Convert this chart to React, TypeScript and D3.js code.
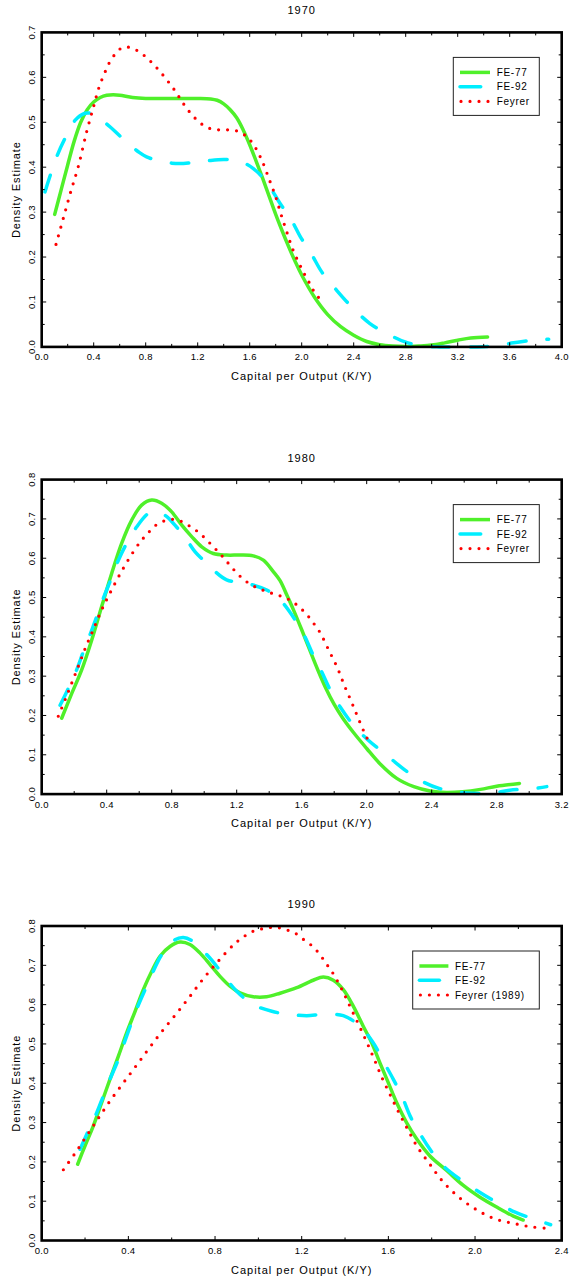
import React from "react";
import * as d3 from "d3";

const FONT = '"Liberation Sans", Arial, Helvetica, sans-serif';
const GREEN = "#4ff02a";
const CYAN = "#00eeff";
const RED = "#ff0000";

// ---------- 1970 ----------
const fe77_1970_x = [0.1, 0.15, 0.2, 0.25, 0.3, 0.35, 0.4, 0.45, 0.5, 0.55, 0.6, 0.7, 0.8, 0.9, 1.0, 1.1, 1.2, 1.3, 1.35, 1.4, 1.45, 1.5, 1.55, 1.6, 1.65, 1.7, 1.75, 1.8, 1.85, 1.9, 1.95, 2.0, 2.1, 2.2, 2.3, 2.4, 2.5, 2.6, 2.7, 2.8, 2.9, 3.0, 3.1, 3.2, 3.3, 3.43];
const fe77_1970_y = [0.295, 0.35, 0.405, 0.458, 0.5, 0.528, 0.545, 0.555, 0.56, 0.561, 0.56, 0.555, 0.553, 0.553, 0.553, 0.553, 0.553, 0.552, 0.549, 0.541, 0.528, 0.51, 0.483, 0.45, 0.413, 0.375, 0.335, 0.295, 0.258, 0.223, 0.19, 0.16, 0.11, 0.072, 0.045, 0.026, 0.012, 0.005, 0.002, 0.001, 0.002, 0.004, 0.009, 0.015, 0.02, 0.022];
const fe92_1970_x = [0.025, 0.115, 0.179, 0.256, 0.333, 0.372, 0.45, 0.525, 0.6, 0.666, 0.75, 0.807, 0.9, 1.0, 1.064, 1.15, 1.218, 1.3, 1.4, 1.474, 1.55, 1.628, 1.73, 1.83, 1.92, 1.99, 2.08, 2.154, 2.269, 2.385, 2.525, 2.654, 2.795, 2.935, 3.06, 3.2, 3.35, 3.47, 3.63, 3.78, 3.9];
const fe92_1970_y = [0.345, 0.423, 0.464, 0.504, 0.52, 0.52, 0.507, 0.49, 0.47, 0.453, 0.433, 0.423, 0.414, 0.409, 0.408, 0.41, 0.412, 0.415, 0.417, 0.416, 0.41, 0.397, 0.367, 0.321, 0.283, 0.245, 0.204, 0.167, 0.126, 0.089, 0.052, 0.03, 0.011, 0.002, 0.0, 0.0, 0.0, 0.002, 0.009, 0.015, 0.017];
const fey_1970_x = [0.11, 0.166, 0.223, 0.282, 0.346, 0.402, 0.44, 0.492, 0.525, 0.569, 0.625, 0.695, 0.764, 0.825, 0.879, 0.933, 0.985, 1.033, 1.077, 1.126, 1.18, 1.24, 1.305, 1.374, 1.44, 1.51, 1.577, 1.628, 1.667, 1.7, 1.75, 1.8, 1.84, 1.885, 1.93, 1.99, 2.025, 2.064, 2.1, 2.154];
const fey_1970_y = [0.228, 0.286, 0.345, 0.402, 0.479, 0.538, 0.577, 0.615, 0.635, 0.653, 0.667, 0.665, 0.654, 0.639, 0.623, 0.605, 0.586, 0.567, 0.547, 0.527, 0.509, 0.494, 0.485, 0.483, 0.483, 0.48, 0.468, 0.451, 0.431, 0.411, 0.373, 0.334, 0.296, 0.256, 0.218, 0.18, 0.16, 0.14, 0.121, 0.102];

// ---------- 1980 ----------
const fe77_1980_x = [0.123, 0.185, 0.246, 0.308, 0.369, 0.431, 0.492, 0.554, 0.615, 0.677, 0.738, 0.8, 0.862, 0.923, 0.985, 1.056, 1.138, 1.22, 1.302, 1.364, 1.425, 1.467, 1.51, 1.55, 1.6, 1.65, 1.7, 1.75, 1.8, 1.85, 1.92, 2.0, 2.08, 2.185, 2.29, 2.39, 2.49, 2.59, 2.7, 2.8, 2.94];
const fe77_1980_y = [0.193, 0.256, 0.316, 0.392, 0.477, 0.562, 0.638, 0.697, 0.735, 0.748, 0.74, 0.718, 0.684, 0.655, 0.629, 0.612, 0.608, 0.608, 0.606, 0.595, 0.566, 0.543, 0.505, 0.468, 0.418, 0.366, 0.315, 0.268, 0.228, 0.195, 0.156, 0.116, 0.078, 0.04, 0.019, 0.008, 0.004, 0.006, 0.012, 0.02, 0.027];
const fe92_1980_x = [0.113, 0.164, 0.215, 0.256, 0.297, 0.338, 0.379, 0.42, 0.472, 0.523, 0.585, 0.656, 0.7, 0.77, 0.82, 0.872, 0.943, 0.995, 1.046, 1.138, 1.262, 1.385, 1.467, 1.56, 1.62, 1.67, 1.723, 1.774, 1.836, 1.917, 2.01, 2.123, 2.236, 2.348, 2.45, 2.615, 2.78, 2.88, 3.03, 3.108];
const fe92_1980_y = [0.226, 0.269, 0.316, 0.362, 0.405, 0.451, 0.498, 0.54, 0.595, 0.638, 0.68, 0.714, 0.72, 0.706, 0.684, 0.659, 0.617, 0.595, 0.574, 0.545, 0.536, 0.519, 0.494, 0.443, 0.4, 0.354, 0.311, 0.266, 0.222, 0.176, 0.137, 0.099, 0.061, 0.031, 0.014, 0.003, 0.003, 0.01, 0.014, 0.019];
const fey_1980_x = [0.102, 0.147, 0.19, 0.232, 0.273, 0.318, 0.365, 0.416, 0.472, 0.533, 0.605, 0.65, 0.699, 0.754, 0.81, 0.863, 0.917, 0.968, 1.019, 1.071, 1.122, 1.167, 1.216, 1.265, 1.319, 1.374, 1.43, 1.483, 1.538, 1.59, 1.637, 1.676, 1.713, 1.768, 1.82, 1.862, 1.908, 1.953, 2.0, 2.03];
const fey_1980_y = [0.198, 0.243, 0.288, 0.332, 0.376, 0.419, 0.465, 0.508, 0.552, 0.596, 0.641, 0.662, 0.683, 0.695, 0.699, 0.693, 0.68, 0.665, 0.645, 0.623, 0.6, 0.578, 0.556, 0.539, 0.526, 0.517, 0.509, 0.502, 0.491, 0.474, 0.454, 0.433, 0.411, 0.365, 0.321, 0.277, 0.233, 0.188, 0.144, 0.123];

// ---------- 1990 ----------
const fe77_1990_x = [0.166, 0.2, 0.238, 0.277, 0.315, 0.354, 0.392, 0.431, 0.469, 0.508, 0.546, 0.592, 0.638, 0.684, 0.731, 0.777, 0.823, 0.869, 0.915, 0.977, 1.038, 1.1, 1.177, 1.253, 1.3, 1.346, 1.392, 1.438, 1.484, 1.523, 1.561, 1.6, 1.638, 1.684, 1.731, 1.792, 1.869, 1.946, 2.023, 2.1, 2.177, 2.222];
const fe77_1990_y = [0.194, 0.241, 0.291, 0.351, 0.41, 0.469, 0.528, 0.583, 0.638, 0.685, 0.723, 0.748, 0.759, 0.753, 0.731, 0.702, 0.672, 0.647, 0.63, 0.62, 0.62, 0.629, 0.643, 0.662, 0.67, 0.662, 0.638, 0.596, 0.545, 0.503, 0.452, 0.401, 0.351, 0.3, 0.258, 0.215, 0.178, 0.14, 0.11, 0.085, 0.062, 0.052];
const fe92_1990_x = [0.177, 0.215, 0.254, 0.284, 0.315, 0.354, 0.392, 0.438, 0.477, 0.515, 0.554, 0.615, 0.654, 0.692, 0.769, 0.831, 0.9, 0.977, 1.062, 1.146, 1.223, 1.3, 1.392, 1.469, 1.53, 1.577, 1.623, 1.662, 1.7, 1.738, 1.792, 1.853, 1.93, 2.023, 2.1, 2.185, 2.27, 2.349];
const fe92_1990_y = [0.232, 0.279, 0.325, 0.367, 0.41, 0.461, 0.52, 0.588, 0.638, 0.685, 0.727, 0.765, 0.771, 0.763, 0.723, 0.681, 0.634, 0.6, 0.583, 0.575, 0.572, 0.575, 0.572, 0.545, 0.503, 0.456, 0.41, 0.368, 0.317, 0.279, 0.232, 0.19, 0.156, 0.122, 0.097, 0.072, 0.055, 0.04];
const fey_1990_x = [0.1, 0.158, 0.212, 0.264, 0.318, 0.377, 0.438, 0.497, 0.558, 0.623, 0.684, 0.746, 0.814, 0.887, 0.928, 0.969, 1.01, 1.05, 1.089, 1.131, 1.169, 1.21, 1.253, 1.287, 1.315, 1.343, 1.387, 1.426, 1.464, 1.5, 1.535, 1.569, 1.607, 1.646, 1.687, 1.733, 1.789, 1.85, 1.93, 2.011, 2.092, 2.174, 2.257, 2.335];
const fey_1990_y = [0.18, 0.225, 0.27, 0.313, 0.357, 0.401, 0.446, 0.49, 0.534, 0.578, 0.621, 0.666, 0.71, 0.753, 0.771, 0.785, 0.792, 0.796, 0.796, 0.79, 0.782, 0.765, 0.747, 0.725, 0.703, 0.681, 0.637, 0.592, 0.548, 0.505, 0.461, 0.416, 0.372, 0.328, 0.285, 0.239, 0.196, 0.151, 0.108, 0.077, 0.055, 0.044, 0.035, 0.031];

const panelTitles = ["1970", "1980", "1990"];
const panelXMax = [4.0, 3.2, 2.4];
const panelYMax = [0.7, 0.8, 0.8];
const legendNames = [["FE-77", "FE-92", "Feyrer"], ["FE-77", "FE-92", "Feyrer"], ["FE-77", "FE-92", "Feyrer (1989)"]];
const xAxisTitle = "Capital per Output (K/Y)";
const yAxisTitle = "Density Estimate";

const panelSeries = [
  [[fe77_1970_x, fe77_1970_y], [fe92_1970_x, fe92_1970_y], [fey_1970_x, fey_1970_y]],
  [[fe77_1980_x, fe77_1980_y], [fe92_1980_x, fe92_1980_y], [fey_1980_x, fey_1980_y]],
  [[fe77_1990_x, fe77_1990_y], [fe92_1990_x, fe92_1990_y], [fey_1990_x, fey_1990_y]],
];

const seriesStyle = [
  { color: GREEN, dash: undefined as string | undefined, width: 3.5 },
  { color: CYAN, dash: "17.5 21", width: 3.5 },
  { color: RED, dash: "0 9", width: 3.2 },
];

const LEFT = 41.7;
const RIGHT = 561.7;
const TOPS = [32.4, 479.6, 926];
const PH = 314.5;

function Panel({ idx }: { idx: number }) {
  const top = TOPS[idx];
  const bottom = top + PH;
  const xMax = panelXMax[idx];
  const yMax = panelYMax[idx];
  const x = d3.scaleLinear().domain([0, xMax]).range([LEFT, RIGHT]);
  const y = d3.scaleLinear().domain([0, yMax]).range([bottom, top]);
  const line = d3
    .line<[number, number]>()
    .x((d) => x(d[0]))
    .y((d) => y(d[1]))
    .curve(d3.curveCatmullRom.alpha(0.5));

  const xt = d3.range(0, Math.round(xMax / 0.2) + 1).map((i) => i * 0.2);
  const yt = d3.range(0, Math.round(yMax / 0.05) + 1).map((i) => i * 0.05);
  const fmt = d3.format(".1f");

  const labels = legendNames[idx];
  const wide = labels[2].length > 8;
  const boxW = wide ? 126.6 : 86;
  const boxX = RIGHT - 22.4 - boxW;
  const boxY = top + 25;
  const entryY = [15, 29.3, 44];
  const lx0 = boxX + 6.7;
  const tx = boxX + (wide ? 42.3 : 43.4);
  const lineLens = wide ? [29, 20, 27.3] : [30, 20.7, 27.3];

  const majLen = 4.5;
  const minLen = 3;

  return (
    <g>
      <text x={(LEFT + RIGHT) / 2} y={top - 18} textAnchor="middle" fontSize={11} letterSpacing={1} fontFamily={FONT}>
        {panelTitles[idx]}
      </text>
      {panelSeries[idx].map((s, k) => {
        const pts = s[0].map((xv, i) => [xv, s[1][i]] as [number, number]);
        const st = seriesStyle[k];
        return (
          <path
            key={k}
            d={line(pts) || ""}
            fill="none"
            stroke={st.color}
            strokeWidth={st.width}
            strokeDasharray={st.dash}
            strokeLinecap="round"
            strokeLinejoin="round"
          />
        );
      })}
      {xt.map((v, i) => {
        const L = i % 2 === 0 ? majLen : minLen;
        return (
          <g key={"xt" + i}>
            <line x1={x(v)} x2={x(v)} y1={bottom} y2={bottom - L} stroke="#000" strokeWidth={1} />
            <line x1={x(v)} x2={x(v)} y1={top} y2={top + L} stroke="#000" strokeWidth={1} />
            {i % 2 === 0 && (
              <text x={x(v)} y={bottom + 13.5} textAnchor="middle" fontSize={9.5} letterSpacing={0.3} fontFamily={FONT}>
                {fmt(v)}
              </text>
            )}
          </g>
        );
      })}
      {yt.map((v, i) => {
        const L = i % 2 === 0 ? majLen : minLen;
        return (
          <g key={"yt" + i}>
            <line x1={LEFT} x2={LEFT + L} y1={y(v)} y2={y(v)} stroke="#000" strokeWidth={1} />
            <line x1={RIGHT} x2={RIGHT - L} y1={y(v)} y2={y(v)} stroke="#000" strokeWidth={1} />
            {i % 2 === 0 && (
              <text
                transform={`translate(35,${y(v)}) rotate(-90)`}
                textAnchor="middle"
                fontSize={9.5}
                letterSpacing={0.3}
                fontFamily={FONT}
              >
                {fmt(v)}
              </text>
            )}
          </g>
        );
      })}
      <rect x={LEFT} y={top} width={RIGHT - LEFT} height={PH} fill="none" stroke="#000" strokeWidth={2.6} />
      <text x={(LEFT + RIGHT) / 2} y={bottom + 33} textAnchor="middle" fontSize={11} letterSpacing={1} fontFamily={FONT}>
        {xAxisTitle}
      </text>
      <text
        transform={`translate(19.5,${(top + bottom) / 2}) rotate(-90)`}
        textAnchor="middle"
        fontSize={11}
        letterSpacing={0.9}
        fontFamily={FONT}
      >
        {yAxisTitle}
      </text>
      <rect x={boxX} y={boxY} width={boxW} height={58} fill="#fff" stroke="#222" strokeWidth={1} />
      {labels.map((lab, k) => {
        const st = seriesStyle[k];
        const yy = boxY + entryY[k];
        return (
          <g key={"lg" + k}>
            {k === 2 ? (
              <path
                d={`M${lx0 + 1},${yy}H${lx0 + 1 + lineLens[k]}`}
                stroke={st.color}
                strokeWidth={st.width}
                strokeDasharray="0 9"
                strokeLinecap="round"
                fill="none"
              />
            ) : (
              <line
                x1={lx0}
                x2={lx0 + lineLens[k]}
                y1={yy}
                y2={yy}
                stroke={st.color}
                strokeWidth={st.width}
                strokeLinecap={k === 1 ? "round" : "butt"}
              />
            )}
            <text x={tx} y={yy + 3.6} fontSize={10} letterSpacing={0.7} fontFamily={FONT}>
              {lab}
            </text>
          </g>
        );
      })}
    </g>
  );
}

export default function App() {
  return (
    <svg
      width={571}
      height={1284}
      style={{ position: "absolute", left: 0, top: 0, background: "#fff" }}
    >
      <rect x={0} y={0} width={571} height={1284} fill="#fff" />
      {[0, 1, 2].map((i) => (
        <Panel key={i} idx={i} />
      ))}
    </svg>
  );
}
